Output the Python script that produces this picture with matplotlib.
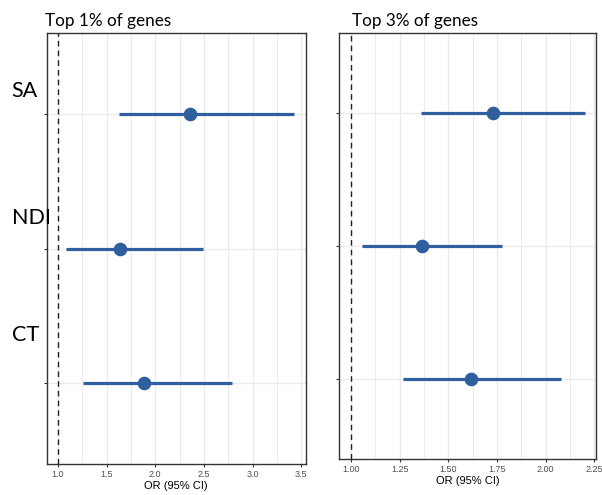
import matplotlib.pyplot as plt
from matplotlib.ticker import MultipleLocator

# data
categories = ["SA", "NDI", "CT"]
ypos = [3, 2, 1]

or_top1 = [2.36, 1.64, 1.88]
lo_top1 = [1.63, 1.08, 1.26]
hi_top1 = [3.43, 2.49, 2.79]

or_top3 = [1.73, 1.365, 1.615]
lo_top3 = [1.36, 1.055, 1.265]
hi_top3 = [2.20, 1.775, 2.08]

ticks_top1 = [1.0, 1.5, 2.0, 2.5, 3.0, 3.5]
ticks_top3 = [1.0, 1.25, 1.5, 1.75, 2.0, 2.25]

blue = "#2F5F9E"

fig = plt.figure(figsize=(6.02, 4.95), dpi=100)
ax1 = fig.add_axes([0.0776, 0.0626, 0.4302, 0.8707])
ax2 = fig.add_axes([0.5636, 0.0727, 0.4264, 0.8606])


def forest(ax, est, lo, hi, xlim, ticks, minor, fmt, title, tx):
    ax.set_xlim(*xlim)
    ax.set_ylim(0.4, 3.6)
    ax.set_xticks(ticks)
    ax.set_xticklabels([fmt.format(v) for v in ticks],
                       family="Liberation Sans")
    ax.xaxis.set_minor_locator(MultipleLocator(minor))
    ax.grid(which="major", color="#EBEBEB", lw=1.0)
    ax.grid(which="minor", axis="x", color="#EBEBEB", lw=0.7)
    ax.set_axisbelow(True)
    ax.axvline(1, color="#222222", ls=(0, (4, 3)), lw=1.0)
    ax.hlines(ypos, lo, hi, color=blue, lw=2.3, zorder=3)
    ax.plot(est, ypos, "o", color=blue, ms=8.8, zorder=4)
    for s in ax.spines.values():
        s.set_color("#333333")
        s.set_linewidth(1.0)
    ax.set_yticks(ypos)
    ax.set_yticklabels([])
    ax.tick_params(axis="y", length=2.5, color="#333333")
    ax.tick_params(axis="x", length=2.5, color="#333333", labelsize=6.5,
                   labelcolor="#4D4D4D", pad=2)
    ax.tick_params(which="minor", length=0)
    ax.set_xlabel("OR (95% CI)", fontsize=8, labelpad=1,
                  family="Liberation Sans")
    ax.set_title(title, loc="left", fontsize=12.3, family="Lato", pad=5,
                 x=tx)


forest(ax1, or_top1, lo_top1, hi_top1, (0.884, 3.546), ticks_top1, 0.25,
       "{:.1f}", "Top 1% of genes", -0.005)
forest(ax2, or_top3, lo_top3, hi_top3, (0.94, 2.258), ticks_top3, 0.125,
       "{:.2f}", "Top 3% of genes", 0.05)

# large category labels on the left panel
label_shift = [0.17, 0.23, 0.36]
for cat, y, dy in zip(categories, ypos, label_shift):
    ax1.text(-0.135, y + dy, cat, transform=ax1.get_yaxis_transform(),
             ha="left", va="center", fontsize=15.5, family="Lato")

fig.savefig("out.png", dpi=100)
